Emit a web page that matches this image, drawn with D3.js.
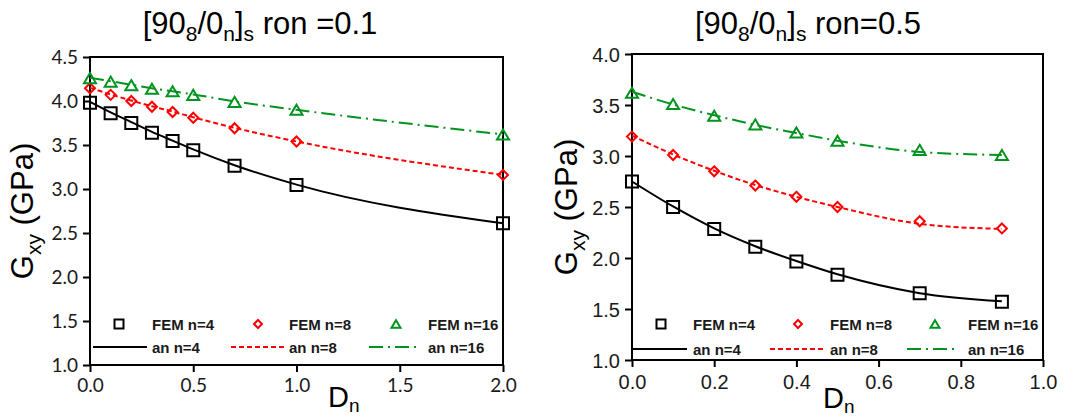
<!DOCTYPE html>
<html>
<head>
<meta charset="utf-8">
<script src="https://cdn.jsdelivr.net/npm/d3@7"></script>
<style>
  html, body { margin: 0; padding: 0; background: #fff; }
  svg { display: block; }
</style>
</head>
<body>
<svg id="chart" width="1074" height="418"></svg>
<script>
// ---- data: left panel, ron = 0.1 ----
const dnLeft = [0, 0.1, 0.2, 0.3, 0.4, 0.5, 0.7, 1.0, 2.0];
const femLeftN4  = [3.98, 3.86, 3.75, 3.64, 3.545, 3.44, 3.265, 3.045, 2.61];
const femLeftN8  = [4.145, 4.07, 4.0, 3.935, 3.875, 3.81, 3.69, 3.54, 3.16];
const femLeftN16 = [4.26, 4.22, 4.18, 4.14, 4.11, 4.07, 3.99, 3.90, 3.62];
const anLeftN4   = [3.99, 3.87, 3.76, 3.65, 3.55, 3.45, 3.27, 3.05, 2.61];
const anLeftN8   = [4.15, 4.075, 4.005, 3.94, 3.88, 3.815, 3.695, 3.54, 3.16];
const anLeftN16  = [4.265, 4.225, 4.185, 4.145, 4.11, 4.075, 3.995, 3.90, 3.62];
const xTicksLeft = [0, 0.5, 1.0, 1.5, 2.0];
const yTicksLeft = [1.0, 1.5, 2.0, 2.5, 3.0, 3.5, 4.0, 4.5];

// ---- data: right panel, ron = 0.5 ----
const dnRight = [0, 0.1, 0.2, 0.3, 0.4, 0.5, 0.7, 0.9];
const femRightN4  = [2.75, 2.50, 2.285, 2.11, 1.965, 1.835, 1.655, 1.57];
const femRightN8  = [3.19, 3.01, 2.85, 2.71, 2.60, 2.50, 2.36, 2.29];
const femRightN16 = [3.62, 3.51, 3.395, 3.31, 3.23, 3.15, 3.06, 3.01];
const anRightN4   = [2.75, 2.505, 2.29, 2.115, 1.97, 1.84, 1.655, 1.575];
const anRightN8   = [3.20, 3.015, 2.855, 2.715, 2.60, 2.50, 2.335, 2.285];
const anRightN16  = [3.63, 3.505, 3.40, 3.305, 3.225, 3.15, 3.04, 3.01];
const xTicksRight = [0, 0.2, 0.4, 0.6, 0.8, 1.0];
const yTicksRight = [1.0, 1.5, 2.0, 2.5, 3.0, 3.5, 4.0];

const seriesNames = ["n=4", "n=8", "n=16"];
const colors = ["#000000", "#ff0000", "#009320"];
const dashes = [null, "5,3", "14,5,2,5"];
const shapes = ["square", "diamond", "triangle"];

const svg = d3.select("#chart");

function markerPath(shape, s) {
  if (shape === "square") {
    const h = s / 2;
    return `M${-h},${-h}H${h}V${h}H${-h}Z`;
  }
  if (shape === "diamond") {
    const h = s / 2;
    return `M0,${-h}L${h},0L0,${h}L${-h},0Z`;
  }
  const w = s / 2, hh = s * 0.42;
  return `M0,${-hh}L${w},${hh}L${-w},${hh}Z`;
}

function panel(cfg) {
  const g = svg.append("g");
  const x = d3.scaleLinear().domain(cfg.xDomain).range([cfg.left, cfg.right]);
  const y = d3.scaleLinear().domain(cfg.yDomain).range([cfg.bottom, cfg.top]);

  // axes
  const xAxis = d3.axisBottom(x).tickValues(cfg.xTicks).tickSize(7).tickFormat(d3.format(cfg.xFmt));
  const yAxis = d3.axisLeft(y).tickValues(cfg.yTicks).tickSize(7).tickFormat(d3.format(".1f"));

  const gx = g.append("g").attr("transform", `translate(0,${cfg.bottom})`).call(xAxis);
  const gy = g.append("g").attr("transform", `translate(${cfg.left},0)`).call(yAxis);
  [gx, gy].forEach(a => {
    a.select(".domain").remove();
    a.selectAll(".tick line").attr("stroke", "#000").attr("stroke-width", 2);
    a.selectAll(".tick text")
      .attr("fill", "#1a1a1a")
      .style("font-family", cfg.tickFont)
      .style("font-size", cfg.tickSize + "px");
  });
  gx.selectAll(".tick text").attr("y", cfg.xLabelDy);
  gy.selectAll(".tick text").attr("x", -cfg.yLabelDx).attr("dy", "0.36em");

  // frame
  g.append("rect")
    .attr("x", cfg.left).attr("y", cfg.top)
    .attr("width", cfg.right - cfg.left).attr("height", cfg.bottom - cfg.top)
    .attr("fill", "none").attr("stroke", "#000").attr("stroke-width", 2);

  // FEM markers
  cfg.fem.forEach((vals, i) => {
    g.append("g").selectAll("path")
      .data(vals.map((v, j) => [cfg.xs[j], v]))
      .join("path")
      .attr("transform", d => `translate(${x(d[0])},${y(d[1])})`)
      .attr("d", markerPath(shapes[i], i === 1 ? 10 : 12))
      .attr("fill", "none")
      .attr("stroke", colors[i])
      .attr("stroke-width", 2);
  });

  // analytic curves
  const line = d3.line().x(d => x(d[0])).y(d => y(d[1])).curve(d3.curveMonotoneX);
  cfg.an.forEach((vals, i) => {
    g.append("path")
      .datum(vals.map((v, j) => [cfg.xs[j], v]))
      .attr("d", line)
      .attr("fill", "none")
      .attr("stroke", colors[i])
      .attr("stroke-width", 2)
      .attr("stroke-dasharray", dashes[i]);
  });

  // legend
  const lg = g.append("g").style("font-family", "Liberation Sans, Arial, sans-serif")
    .style("font-weight", "bold").style("font-size", "15px");
  seriesNames.forEach((name, i) => {
    const c = cfg.legend[i];
    lg.append("path")
      .attr("transform", `translate(${c.sym},${cfg.legY1})`)
      .attr("d", markerPath(shapes[i], i === 1 ? 8 : 9))
      .attr("fill", "none").attr("stroke", colors[i]).attr("stroke-width", 2);
    lg.append("text").attr("x", c.text).attr("y", cfg.legY1 + 5.5).attr("fill", "#1a1a1a").text("FEM " + name);
    lg.append("line")
      .attr("x1", c.l1).attr("x2", c.l2).attr("y1", cfg.legY2).attr("y2", cfg.legY2)
      .attr("stroke", colors[i]).attr("stroke-width", 2).attr("stroke-dasharray", dashes[i]);
    lg.append("text").attr("x", c.text).attr("y", cfg.legY2 + 5.5).attr("fill", "#1a1a1a").text("an " + name);
  });

  // title
  const t = g.append("text")
    .attr("x", cfg.titleX).attr("y", 34)
    .attr("text-anchor", "middle")
    .style("font-family", "Liberation Sans, Arial, sans-serif")
    .style("font-size", "31px").attr("fill", "#000");
  t.append("tspan").text("[90");
  t.append("tspan").attr("dy", 7).style("font-size", "21px").text("8");
  t.append("tspan").attr("dy", -7).text("/0");
  t.append("tspan").attr("dy", 7).style("font-size", "21px").text("n");
  t.append("tspan").attr("dy", -7).text("]");
  t.append("tspan").attr("dy", 7).style("font-size", "21px").text("s");
  t.append("tspan").attr("dy", -7).text(cfg.titleTail);

  // x axis title
  const xt = g.append("text")
    .attr("x", cfg.xTitleX).attr("y", cfg.xTitleY)
    .style("font-family", "Liberation Sans, Arial, sans-serif")
    .style("font-size", "29px").attr("fill", "#000");
  xt.append("tspan").text("D");
  xt.append("tspan").attr("dy", 5).style("font-size", "19px").text("n");

  // y axis title
  const yt = g.append("text")
    .attr("transform", `translate(${cfg.yTitleX},${(cfg.top + cfg.bottom) / 2}) rotate(-90)`)
    .attr("text-anchor", "middle")
    .style("font-family", "Liberation Sans, Arial, sans-serif")
    .style("font-size", "31px").attr("fill", "#000");
  yt.append("tspan").text("G");
  yt.append("tspan").attr("dy", 8).style("font-size", "21px").text("xy");
  yt.append("tspan").attr("dy", -8).text(" (GPa)");
}

panel({
  left: 90, right: 503, top: 57, bottom: 365,
  xDomain: [0, 2], yDomain: [1, 4.5],
  xTicks: xTicksLeft, yTicks: yTicksLeft, xFmt: ".1f",
  xs: dnLeft,
  fem: [femLeftN4, femLeftN8, femLeftN16],
  an: [anLeftN4, anLeftN8, anLeftN16],
  tickFont: "Lato, 'Open Sans', sans-serif", tickSize: 19,
  xLabelDy: 14, yLabelDx: 12,
  legY1: 324, legY2: 347,
  legend: [
    { sym: 119, text: 152, l1: 93, l2: 147 },
    { sym: 258, text: 289, l1: 231, l2: 285 },
    { sym: 396, text: 428, l1: 369, l2: 417 }
  ],
  titleX: 260, titleTail: " ron =0.1",
  xTitleX: 328, xTitleY: 407, yTitleX: 33
});

panel({
  left: 632, right: 1043, top: 54, bottom: 360,
  xDomain: [0, 1], yDomain: [1, 4],
  xTicks: xTicksRight, yTicks: yTicksRight, xFmt: ".1f",
  xs: dnRight,
  fem: [femRightN4, femRightN8, femRightN16],
  an: [anRightN4, anRightN8, anRightN16],
  tickFont: "'Liberation Sans', Arial, sans-serif", tickSize: 20,
  xLabelDy: 15, yLabelDx: 12,
  legY1: 324, legY2: 349,
  legend: [
    { sym: 661, text: 693, l1: 633, l2: 687 },
    { sym: 798, text: 830, l1: 770, l2: 825 },
    { sym: 935, text: 968, l1: 907, l2: 955 }
  ],
  titleX: 808, titleTail: " ron=0.5",
  xTitleX: 823, xTitleY: 408, yTitleX: 577
});
</script>
</body>
</html>
